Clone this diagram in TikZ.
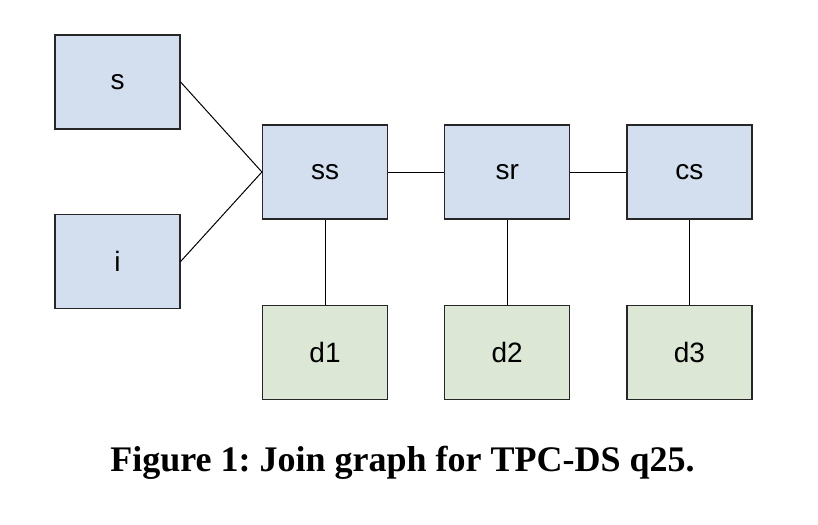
\documentclass[tikz,border=0pt]{standalone}
\usepackage{fontspec}
\setmainfont{Liberation Serif}
\newfontfamily\boxfont{Liberation Sans}
\usetikzlibrary{positioning}
\definecolor{tblue}{HTML}{D3DFEE}
\definecolor{tgreen}{HTML}{DCE7D5}
\frenchspacing

\begin{document}
\begin{tikzpicture}[x=1pt, y=-1pt,
    tbl/.style={draw=black!85, line width=1.2pt, minimum width=125pt, minimum height=94pt, inner sep=0pt, font=\boxfont\fontsize{28}{30}\selectfont},
    fact/.style={tbl, fill=tblue},
    dim/.style={tbl, fill=tgreen},
    edge/.style={draw=black, line width=1pt}
]
\useasboundingbox (0,0) rectangle (818,524);

\node [fact] (s) at (117.5,82) {s};
\node [fact] (i) at (117.5,261.5) {i};
\node [fact] (ss) at (325,172) {ss};
\node [fact, right=56pt of ss] (sr) {sr};
\node [fact, right=56pt of sr] (cs) {cs};
\node [dim, below=85pt of ss] (d1) {d1};
\node [dim, below=85pt of sr] (d2) {d2};
\node [dim, below=85pt of cs] (d3) {d3};

\draw [edge] (s.east) -- (ss.west);
\draw [edge] (i.east) -- (ss.west);
\draw [edge] (ss) -- (sr);
\draw [edge] (sr) -- (cs);
\draw [edge] (ss) -- (d1);
\draw [edge] (sr) -- (d2);
\draw [edge] (cs) -- (d3);

\node [font=\bfseries\fontsize{36}{40}\selectfont] (caption) at (402.5,463) {Figure 1: Join graph for TPC-DS q25.};
\end{tikzpicture}
\end{document}
